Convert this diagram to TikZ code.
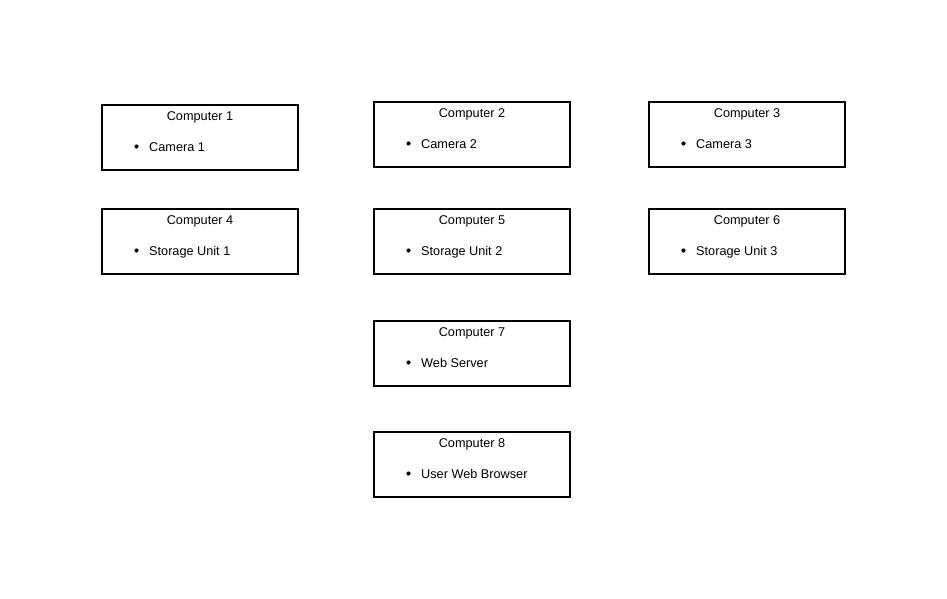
\documentclass[tikz,border=0pt]{standalone}
\usepackage{fontspec}
\setmainfont{Liberation Sans}
\begin{document}
\begin{tikzpicture}[x=1pt,y=-1pt,
  compbox/.style={draw=black, line width=2pt, rectangle, minimum width=196pt, minimum height=65pt, inner sep=0pt},
  boxtext/.style={inner sep=0pt, font=\fontsize{12.7}{15}\selectfont, text=black},
  bulletdot/.style={circle, fill=black, inner sep=0pt, minimum size=4.2pt}]
\useasboundingbox (0,0) rectangle (947,599);
\fill[white] (0,0) rectangle (947,599);
% box with a heading and one bulleted entry
\newcommand\computerbox[5]{%
  \node[compbox] (#1) at (#2,#3) {};
  \node[boxtext, anchor=base] (#1-title) at ([yshift=-16.5pt]#1.north) {#4};
  \node[bulletdot] (#1-dot) at ([xshift=35.5pt,yshift=-42.5pt]#1.north west) {};
  \node[boxtext, anchor=base west] (#1-item) at ([xshift=48pt,yshift=-47.5pt]#1.north west) {#5};
}
\computerbox{c1}{200}{137.5}{Computer 1}{Camera 1}
\computerbox{c2}{472}{134.5}{Computer 2}{Camera 2}
\computerbox{c3}{747}{134.5}{Computer 3}{Camera 3}
\computerbox{c4}{200}{241.5}{Computer 4}{Storage Unit 1}
\computerbox{c5}{472}{241.5}{Computer 5}{Storage Unit 2}
\computerbox{c6}{747}{241.5}{Computer 6}{Storage Unit 3}
\computerbox{c7}{472}{353.5}{Computer 7}{Web Server}
\computerbox{c8}{472}{464.5}{Computer 8}{User Web Browser}
\end{tikzpicture}
\end{document}
